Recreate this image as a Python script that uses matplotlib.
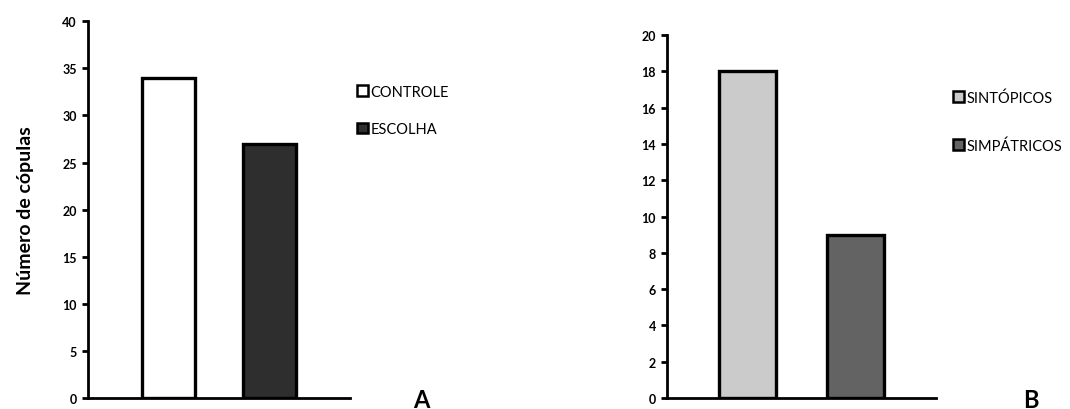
import matplotlib
matplotlib.use("Agg")
import matplotlib.pyplot as plt
import matplotlib.patheffects as pe
from matplotlib.patches import Patch

# painel A
labels_a = ["CONTROLE", "ESCOLHA"]
values_a = [34, 27]
colors_a = ["#ffffff", "#2e2e2e"]
yticks_a = [0, 5, 10, 15, 20, 25, 30, 35, 40]

# painel B
labels_b = ["SINTÓPICOS", "SIMPÁTRICOS"]
values_b = [18, 9]
colors_b = ["#cbcbcb", "#636363"]
yticks_b = [0, 2, 4, 6, 8, 10, 12, 14, 16, 18, 20]

plt.rcParams["font.family"] = ["Lato", "DejaVu Sans"]

fig = plt.figure(figsize=(10.7, 4.1), dpi=100)
ax_a = fig.add_axes([0.0822, 0.0268, 0.245, 0.919])
ax_b = fig.add_axes([0.6234, 0.0268, 0.2514, 0.885])


def draw_panel(ax, labels, values, colors, yticks, xlim, width, leg_anchor, spacing, letter, letter_x):
    shadow = [pe.SimplePatchShadow(offset=(1.5, -1.5), alpha=0.35), pe.Normal()]
    bars = ax.bar(range(len(values)), values, width=width, color=colors,
                  edgecolor="black", linewidth=2.4, zorder=3)
    for b in bars:
        b.set_path_effects(shadow)
    ax.set_xlim(*xlim)
    ax.set_ylim(0, yticks[-1])
    ax.set_yticks(yticks)
    ax.set_xticks([])
    for s in ["top", "right"]:
        ax.spines[s].set_visible(False)
    for s in ["left", "bottom"]:
        ax.spines[s].set_linewidth(2)
    ax.tick_params(axis="y", length=4, width=2, labelsize=9, pad=4)
    for t in ax.get_yticklabels():
        t.set_fontweight("bold")

    handles = [Patch(facecolor=c, edgecolor="black", linewidth=1.8) for c in colors]
    ax.legend(handles, labels, loc="upper left", bbox_to_anchor=leg_anchor,
              bbox_transform=fig.transFigure, frameon=False, fontsize=10.5,
              handlelength=0.75, handleheight=0.75, handletextpad=0.2,
              labelspacing=spacing, borderaxespad=0)
    fig.text(letter_x, 0.006, letter, fontsize=17, fontweight="bold",
             ha="center", va="baseline")


draw_panel(ax_a, labels_a, values_a, colors_a, yticks_a, (-0.8, 1.8), 0.53,
           (0.328, 0.805), 1.6, "A", 0.394)
draw_panel(ax_b, labels_b, values_b, colors_b, yticks_b, (-0.75, 1.75), 0.53,
           (0.885, 0.792), 2.3, "B", 0.963)

ax_a.set_ylabel("Número de cópulas", fontsize=14, fontweight="bold", labelpad=20)

fig.savefig("out.png", dpi=100)
